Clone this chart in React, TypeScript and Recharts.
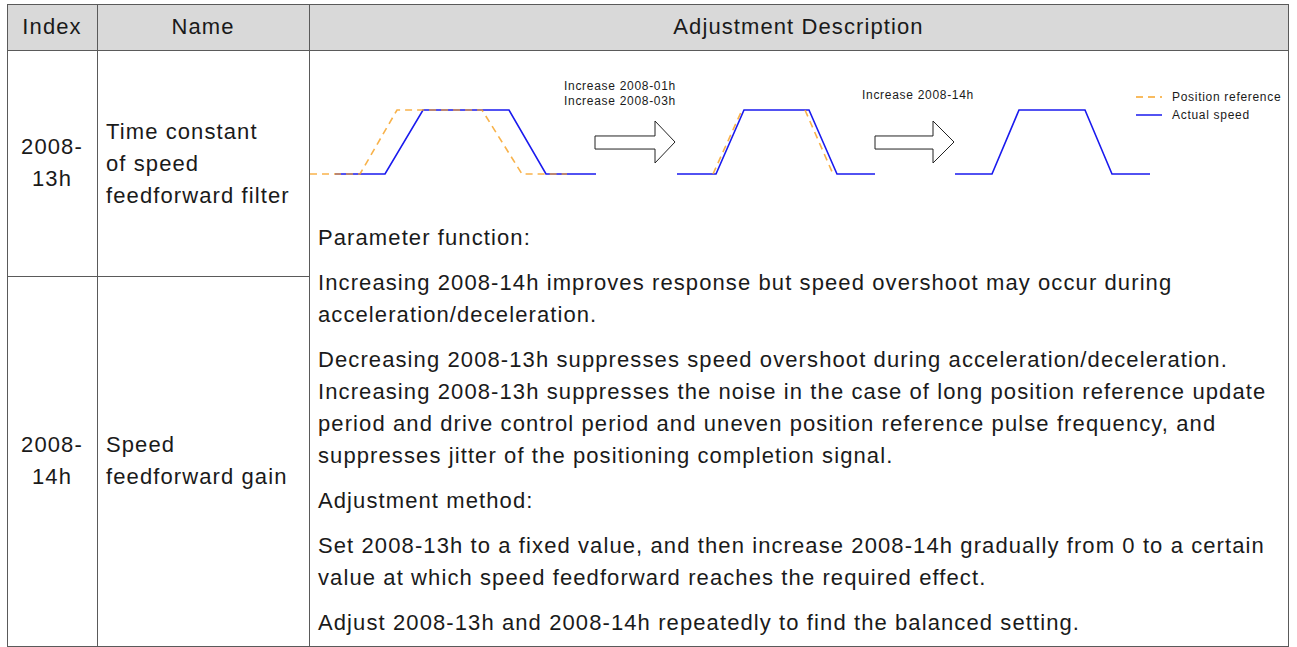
import { LineChart, Line, XAxis, YAxis, Legend } from "recharts";

// schematic time axis (ms from cell edge) and normalized speed
const REF_T = [1, 51, 88, 173, 213, 258, 300, 404, 433, 460, 496, 524];
const REF_V = [0, 0, 1, 1, 0, 0, null, 0, 1, null, 1, 0];
const SPEED_T = [26, 76, 114, 200, 237, 287, 320, 368, 407, 435, 500, 528, 566, 600, 646, 683, 710, 776, 803, 841];
const SPEED_V = [0, 0, 1, 1, 0, 0, null, 0, 0, 1, 1, 0, 0, null, 0, 0, 1, 1, 0, 0];
const ARROW_T = [286, 346, 346, 366, 346, 346, 286, 286, 420, 566, 624, 624, 645, 624, 624, 566, 566];
const ARROW_V = [0.594, 0.594, 0.828, 0.5, 0.172, 0.39, 0.39, 0.594, null, 0.594, 0.594, 0.828, 0.5, 0.172, 0.39, 0.39, 0.594];

const HEADERS = ["Index", "Name", "Adjustment Description"];
const INDEX_1 = ["2008-", "13h"];
const NAME_1 = ["Time constant", "of speed", "feedforward filter"];
const INDEX_2 = ["2008-", "14h"];
const NAME_2 = ["Speed", "feedforward gain"];
const NOTE_1 = ["Increase 2008-01h", "Increase 2008-03h"];
const NOTE_2 = ["Increase 2008-14h"];

const PARAGRAPHS = [
  ["Parameter function:"],
  ["Increasing 2008-14h improves response but speed overshoot may occur during", "acceleration/deceleration."],
  [
    "Decreasing 2008-13h suppresses speed overshoot during acceleration/deceleration.",
    "Increasing 2008-13h suppresses the noise in the case of long position reference update",
    "period and drive control period and uneven position reference pulse frequency, and",
    "suppresses jitter of the positioning completion signal.",
  ],
  ["Adjustment method:"],
  [
    "Set 2008-13h to a fixed value, and then increase 2008-14h gradually from 0 to a certain",
    "value at which speed feedforward reaches the required effect.",
  ],
  ["Adjust 2008-13h and 2008-14h repeatedly to find the balanced setting."],
];

const SERIES = [
  { name: "Position reference", color: "#f7a52a", dash: "7 5" },
  { name: "Actual speed", color: "#1a1aee", dash: "" },
];

const zip = (t: number[], v: (number | null)[]) => t.map((x, i) => ({ t: x, v: v[i] }));
const refData = zip(REF_T, REF_V);
const speedData = zip(SPEED_T, SPEED_V);
const arrowData = zip(ARROW_T, ARROW_V);

const FONT = '"Liberation Sans", Arial, sans-serif';
const TEXT = "#1a1a1a";
const BORDER = "#5a5a5a";

const hLine = (x1: number, x2: number, y: number) => (
  <div style={{ position: "absolute", left: x1, top: y, width: x2 - x1 + 1, height: 1, background: BORDER }} />
);
const vLine = (x: number, y1: number, y2: number) => (
  <div style={{ position: "absolute", left: x, top: y1, width: 1, height: y2 - y1 + 1, background: BORDER }} />
);

function Lines({ lines, left, top, width, center }: { lines: string[]; left: number; top: number; width?: number; center?: boolean }) {
  return (
    <div style={{ position: "absolute", left, top, width, textAlign: center ? "center" : "left" }}>
      {lines.map((l) => (
        <div key={l} style={{ height: 32, lineHeight: "32px", whiteSpace: "nowrap" }}>{l}</div>
      ))}
    </div>
  );
}

function renderLegend() {
  return (
    <div style={{ fontFamily: FONT, fontSize: 12, letterSpacing: 0.7, color: TEXT }}>
      {SERIES.map((s) => (
        <div key={s.name} style={{ display: "flex", alignItems: "center", height: 18 }}>
          <svg width={36} height={18}>
            <line x1={0} x2={26} y1={9} y2={9} stroke={s.color} strokeWidth={1.5} strokeDasharray={s.dash || undefined} />
          </svg>
          <span>{s.name}</span>
        </div>
      ))}
    </div>
  );
}

export default function App() {
  return (
    <div style={{ position: "absolute", left: 0, top: 0, width: 1297, height: 647, fontFamily: FONT, color: TEXT, fontSize: 22, letterSpacing: 1.1, background: "#fff", overflow: "hidden" }}>
      <div style={{ position: "absolute", left: 7, top: 4, width: 1281, height: 46, background: "#d9d9d9" }} />
      {hLine(7, 1288, 4)}
      {hLine(7, 1288, 50)}
      {hLine(7, 309, 276)}
      {hLine(7, 1288, 646)}
      {vLine(7, 4, 646)}
      {vLine(97, 4, 646)}
      {vLine(309, 4, 646)}
      {vLine(1288, 4, 646)}

      <Lines lines={[HEADERS[0]]} left={7} top={11} width={90} center />
      <Lines lines={[HEADERS[1]]} left={97} top={11} width={212} center />
      <Lines lines={[HEADERS[2]]} left={309} top={11} width={979} center />

      <Lines lines={INDEX_1} left={7} top={131} width={90} center />
      <Lines lines={NAME_1} left={106} top={116} />
      <Lines lines={INDEX_2} left={7} top={429} width={90} center />
      <Lines lines={NAME_2} left={106} top={429} />

      <div style={{ position: "absolute", left: 309, top: 51 }}>
        <LineChart width={979} height={170} margin={{ top: 0, right: 0, bottom: 0, left: 0 }}>
          <XAxis type="number" dataKey="t" domain={[0, 979]} allowDataOverflow hide />
          <YAxis type="number" domain={[-0.734375, 1.921875]} allowDataOverflow hide />
          <Legend layout="vertical" align="center" verticalAlign="middle" content={renderLegend} wrapperStyle={{ position: "absolute", left: 827, top: 37, width: 160, bottom: "auto", right: "auto" }} />
          <Line data={speedData} dataKey="v" name="Actual speed" stroke={SERIES[1].color} strokeWidth={1.6} dot={false} activeDot={false} isAnimationActive={false} />
          <Line data={refData} dataKey="v" name="Position reference" stroke={SERIES[0].color} strokeOpacity={0.85} strokeWidth={1.6} strokeDasharray={SERIES[0].dash} dot={false} activeDot={false} isAnimationActive={false} />
          <Line data={arrowData} dataKey="v" name="arrow" legendType="none" stroke="#222" strokeWidth={1} strokeLinejoin="miter" dot={false} activeDot={false} isAnimationActive={false} />
        </LineChart>
      </div>

      <div style={{ position: "absolute", left: 564, top: 79, fontSize: 12, letterSpacing: 0.7, lineHeight: "15px" }}>
        {NOTE_1.map((n) => <div key={n}>{n}</div>)}
      </div>
      <div style={{ position: "absolute", left: 862, top: 88, fontSize: 12, letterSpacing: 0.7, lineHeight: "15px" }}>
        {NOTE_2.map((n) => <div key={n}>{n}</div>)}
      </div>

      <div style={{ position: "absolute", left: 318, top: 222 }}>
        {PARAGRAPHS.map((p, i) => (
          <div key={i} style={{ marginTop: i === 0 ? 0 : 13 }}>
            {p.map((l) => (
              <div key={l} style={{ height: 32, lineHeight: "32px", whiteSpace: "nowrap" }}>{l}</div>
            ))}
          </div>
        ))}
      </div>
    </div>
  );
}
